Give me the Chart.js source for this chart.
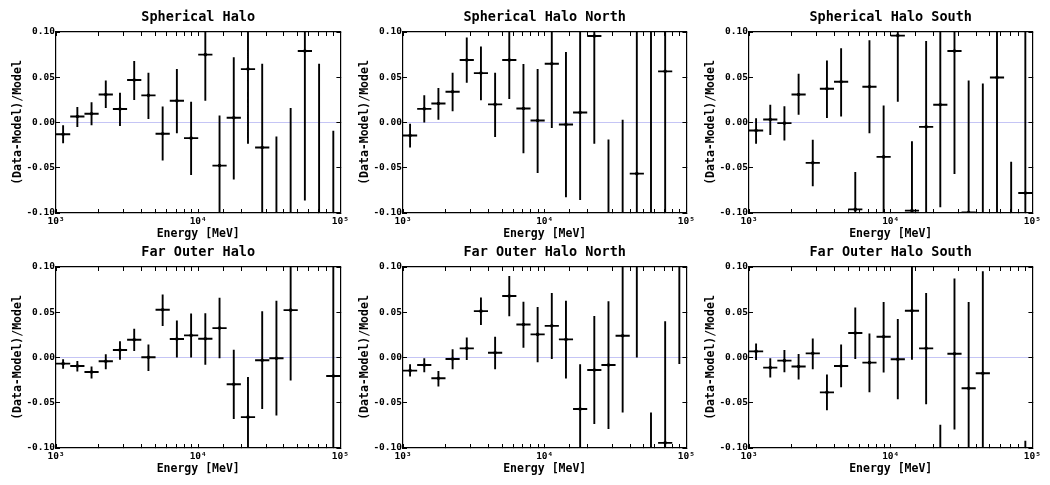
<!DOCTYPE html>
<html>
<head>
<meta charset="utf-8">
<script src="https://cdn.jsdelivr.net/npm/chart.js@4.4.0/dist/chart.umd.min.js"></script>
<style>
  html, body { margin: 0; padding: 0; background: #fff; }
  #wrap { position: relative; width: 1050px; height: 485px; overflow: hidden; }
  .panel { position: absolute; }
</style>
</head>
<body>
<div id="wrap"></div>
<script>
// energy bins (MeV), 10 per decade
const binEdges = [1000, 1259, 1585, 1995, 2512, 3162, 3981, 5012, 6310, 7943, 10000,
  12589, 15849, 19953, 25119, 31623, 39811, 50119, 63096, 79433, 100000];
const binCenters = [1122, 1413, 1778, 2239, 2818, 3548, 4467, 5623, 7079, 8913,
  11220, 14125, 17783, 22387, 28184, 35481, 44668, 56234, 70795, 89125];

const xTickLabels = { 1000: '10\u00b3', 10000: '10\u2074', 100000: '10\u2075' };
const yTicks = [-0.1, -0.05, 0, 0.05, 0.1];

const titles = ['Spherical Halo', 'Spherical Halo North', 'Spherical Halo South',
  'Far Outer Halo', 'Far Outer Halo North', 'Far Outer Halo South'];

// residuals: value, lower and upper end of error bar
const sphVal = [-0.013, 0.0066, 0.0096, 0.031, 0.015, 0.047, 0.030, -0.0125, 0.024, -0.0173, 0.075, -0.0476, 0.0052, 0.059, -0.0277, -0.12, -0.11, 0.079, -0.12, -0.2];
const sphLo  = [-0.023, -0.005, -0.003, 0.016, -0.004, 0.025, 0.004, -0.042, -0.012, -0.058, 0.024, -0.103, -0.063, -0.0236, -0.12, -0.22, -0.24, -0.0863, -0.30, -0.39];
const sphHi  = [-0.003, 0.017, 0.0225, 0.0465, 0.033, 0.068, 0.055, 0.0177, 0.059, 0.023, 0.126, 0.0077, 0.072, 0.141, 0.065, -0.0155, 0.0159, 0.244, 0.065, -0.009];

const sphNVal = [-0.0144, 0.0151, 0.021, 0.034, 0.069, 0.0546, 0.020, 0.069, 0.0155, 0.0022, 0.065, -0.0022, 0.011, 0.0956, -0.13, -0.12, -0.0565, -0.15, 0.0565, null];
const sphNLo  = [-0.0277, 0, 0.003, 0.0125, 0.044, 0.0247, -0.016, 0.026, -0.034, -0.0557, -0.006, -0.0827, -0.0856, -0.0236, -0.24, -0.24, -0.25, -0.45, -0.15, null];
const sphNHi  = [-0.0015, 0.030, 0.038, 0.055, 0.094, 0.084, 0.055, 0.112, 0.0646, 0.059, 0.136, 0.078, 0.106, 0.214, -0.0188, 0.003, 0.14, 0.15, 0.26, null];

const sphSVal = [-0.0089, 0.0033, -0.0007, 0.031, -0.0446, 0.0373, 0.045, -0.096, 0.0395, -0.038, 0.096, -0.0974, -0.0048, 0.0196, 0.079, -0.0995, -0.13, 0.0498, -0.15, -0.0779];
const sphSLo  = [-0.0236, -0.0137, -0.02, 0.0085, -0.0705, 0.005, 0.0066, -0.137, -0.012, -0.105, 0.023, -0.175, -0.11, -0.0937, -0.057, -0.25, -0.30, -0.15, -0.26, -0.30];
const sphSHi  = [0.0048, 0.0196, 0.018, 0.054, -0.019, 0.0686, 0.082, -0.0546, 0.0908, 0.0188, 0.17, -0.0207, 0.09, 0.131, 0.215, 0.0465, 0.0432, 0.25, -0.0435, 0.15];

const farVal = [-0.0068, -0.0094, -0.016, -0.0042, 0.0083, 0.0196, 0.0002, 0.0527, 0.0204, 0.0244, 0.0207, 0.0325, -0.0295, -0.0659, -0.0031, -0.0009, 0.0523, null, null, -0.0204];
const farLo  = [-0.0123, -0.0156, -0.0233, -0.013, -0.0024, 0.0072, -0.0149, 0.0347, 0, 0, -0.0079, -0.0009, -0.068, -0.11, -0.057, -0.064, -0.0255, null, null, -0.25];
const farHi  = [-0.002, -0.0039, -0.01, 0.0035, 0.018, 0.0317, 0.0145, 0.0695, 0.0409, 0.0486, 0.049, 0.0659, 0.0086, -0.0215, 0.0512, 0.0626, 0.13, null, null, 0.21];

const farNVal = [-0.0145, -0.0083, -0.0229, -0.0017, 0.0101, 0.0512, 0.0053, 0.068, 0.0365, 0.0255, 0.035, 0.02, -0.0569, -0.0138, -0.0083, 0.024, 0.15, -0.2, -0.0943, 0.16];
const farNLo  = [-0.021, -0.0163, -0.0321, -0.013, -0.0028, 0.0358, -0.013, 0.0457, 0.0108, -0.0053, -0.0017, -0.0233, -0.11, -0.0734, -0.079, -0.0607, 0.0, -0.35, -0.13, -0.0072];
const farNHi  = [-0.0075, -0.0009, -0.0149, 0.009, 0.0222, 0.0662, 0.0229, 0.090, 0.0617, 0.0559, 0.0714, 0.0626, -0.0075, 0.0459, 0.0622, 0.108, 0.30, -0.0607, 0.04, 0.33];

const farSVal = [0.0068, -0.0112, -0.0035, -0.01, 0.0046, -0.0385, -0.0094, 0.027, -0.0057, 0.0229, -0.002, 0.0516, 0.0101, -0.18, 0.0042, -0.0339, -0.0174, null, null, -0.25];
const farSLo  = [-0.0028, -0.022, -0.0163, -0.0244, -0.013, -0.0583, -0.033, -0.0017, -0.0385, -0.0167, -0.0461, -0.0024, -0.0517, -0.29, -0.0796, -0.13, -0.13, null, null, -0.40];
const farSHi  = [0.0154, -0.0009, 0.0083, 0.0039, 0.0211, -0.0187, 0.0145, 0.0552, 0.0266, 0.0613, 0.0426, 0.105, 0.0713, -0.0743, 0.0872, 0.0613, 0.0952, null, null, -0.092];

const panelData = [
  [sphVal, sphLo, sphHi], [sphNVal, sphNLo, sphNHi], [sphSVal, sphSLo, sphSHi],
  [farVal, farLo, farHi], [farNVal, farNLo, farNHi], [farSVal, farSLo, farSHi]
];

// where each canvas sits on the page
const boxLeft = [0, 347, 693, 0, 347, 693];
const boxTop = [0, 0, 0, 235, 235, 235];
const plotW = [286, 285, 285, 286, 285, 285];
const plotH = 181;
const axisW = 56, rightW = 14, titleH = 32, bottomH = 40;

Chart.defaults.font.family = "'DejaVu Sans Mono', monospace";
Chart.defaults.font.weight = 'bold';
Chart.defaults.color = '#000';
Chart.defaults.animation = false;

// error bars as line segments broken by gaps
function errorBarPoints(val, lo, hi) {
  const pts = [];
  for (let k = 0; k < binCenters.length; k++) {
    if (lo[k] !== null) {
      pts.push({ x: binCenters[k], y: lo[k] }, { x: binCenters[k], y: hi[k] }, { x: binCenters[k], y: null });
    }
    if (val[k] !== null) {
      pts.push({ x: binEdges[k], y: val[k] }, { x: binEdges[k + 1], y: val[k] }, { x: binEdges[k + 1], y: null });
    }
  }
  return pts;
}

function fmtY(v) {
  if (Math.abs(v) < 1e-9) return '0.00';
  return v.toFixed(2);
}

const tickGrid = { drawOnChartArea: false, drawTicks: true, tickLength: -4, tickColor: '#000', tickWidth: 1 };
const frame = { display: true, color: '#000', width: 1.2 };

const wrap = document.getElementById('wrap');

for (let i = 0; i < 6; i++) {
  const [val, lo, hi] = panelData[i];
  const w = axisW + plotW[i] + rightW;
  const h = titleH + plotH + bottomH;

  const div = document.createElement('div');
  div.className = 'panel';
  div.style.left = boxLeft[i] + 'px';
  div.style.top = boxTop[i] + 'px';
  const canvas = document.createElement('canvas');
  canvas.width = w;
  canvas.height = h;
  div.appendChild(canvas);
  wrap.appendChild(div);

  new Chart(canvas, {
    type: 'line',
    data: {
      datasets: [{
        data: errorBarPoints(val, lo, hi),
        xAxisID: 'x', yAxisID: 'y',
        borderColor: '#000',
        borderWidth: 1.9,
        borderCapStyle: 'butt',
        pointRadius: 0,
        spanGaps: false,
        tension: 0,
        clip: 0
      }, {
        data: binCenters.map((c, k) => ({ x: c, y: val[k] })),
        xAxisID: 'x', yAxisID: 'y',
        showLine: false,
        pointRadius: 1.8,
        pointBackgroundColor: '#000',
        pointBorderWidth: 0,
        clip: 0
      }]
    },
    options: {
      responsive: false,
      devicePixelRatio: 1,
      layout: { padding: 0 },
      plugins: {
        legend: { display: false },
        tooltip: { enabled: false },
        title: {
          display: true,
          text: titles[i],
          fullSize: false,
          color: '#000',
          font: { size: 13.5, weight: 'bold' },
          padding: { top: 9.5, bottom: 6.3 }
        }
      },
      scales: {
        x: {
          type: 'logarithmic', position: 'bottom', min: 1000, max: 100000,
          afterFit: s => { s.height = bottomH; },
          border: frame,
          grid: tickGrid,
          ticks: {
            autoSkip: false, maxRotation: 0, padding: 7,
            font: { size: 9.5, weight: 'bold' },
            callback: v => xTickLabels[v] || ''
          },
          title: {
            display: true, text: 'Energy [MeV]',
            font: { size: 11.5, weight: 'bold' },
            padding: { top: 0, bottom: 12 }
          }
        },
        x2: {
          type: 'logarithmic', position: 'top', min: 1000, max: 100000,
          afterFit: s => { s.height = 0; },
          border: frame,
          grid: tickGrid,
          ticks: { display: false, autoSkip: false }
        },
        y: {
          type: 'linear', position: 'left', min: -0.1, max: 0.1,
          afterFit: s => { s.width = axisW; },
          afterBuildTicks: s => { s.ticks = yTicks.map(v => ({ value: v })); },
          border: frame,
          grid: {
            drawOnChartArea: true, drawTicks: true, tickLength: -4, tickColor: '#000', tickWidth: 1,
            lineWidth: 1,
            color: c => (c.tick && Math.abs(c.tick.value) < 1e-9) ? 'rgba(140,140,235,0.5)' : 'rgba(0,0,0,0)'
          },
          ticks: { padding: 5, font: { size: 9.5, weight: 'bold' }, callback: v => fmtY(v) },
          title: {
            display: true, text: '(Data-Model)/Model',
            font: { size: 11.5, weight: 'bold' },
            padding: { top: 11, bottom: 0 }
          }
        },
        y2: {
          type: 'linear', position: 'right', min: -0.1, max: 0.1,
          afterFit: s => { s.width = rightW; },
          afterBuildTicks: s => { s.ticks = yTicks.map(v => ({ value: v })); },
          border: frame,
          grid: tickGrid,
          ticks: { display: false }
        }
      }
    }
  });
}
</script>
</body>
</html>
